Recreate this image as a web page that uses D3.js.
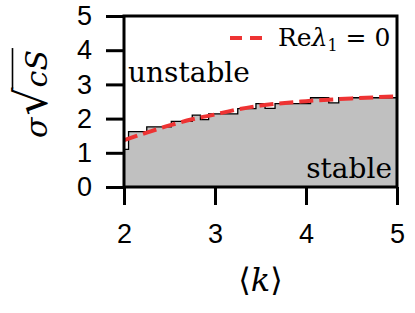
<!DOCTYPE html>
<html>
<head>
<meta charset="utf-8">
<script src="https://cdn.jsdelivr.net/npm/d3@7"></script>
<style>
  body { margin: 0; background: #fff; }
  .tick text { font-family: "Liberation Sans", Arial, sans-serif; font-size: 27px; fill: #000; }
  .tick line { stroke: #000; stroke-width: 3; }
  .serif { font-family: "DejaVu Serif", serif; fill: #000; }
</style>
</head>
<body>
<div id="vis"></div>
<script>
// staircase (numerical boundary) : start of each step and its value
var stepK   = [2.00, 2.05, 2.25, 2.52, 2.75, 2.84, 2.93, 3.25, 3.45, 3.55, 3.66, 4.05, 4.25, 4.36, 5.00];
var stepVal = [1.10, 1.62, 1.76, 1.92, 2.10, 1.97, 2.14, 2.29, 2.44, 2.30, 2.44, 2.61, 2.46, 2.61, 2.61];
// analytic curve Re lambda_1 = 0
var curveK   = [2.00, 2.25, 2.50, 2.75, 3.00, 3.25, 3.50, 4.00, 4.50, 5.00];
var curveVal = [1.37, 1.59, 1.80, 1.98, 2.12, 2.27, 2.38, 2.51, 2.59, 2.65];
var xTicks = [2, 3, 4, 5];
var yTicks = [0, 1, 2, 3, 4, 5];

var width = 415, height = 313;
var margin = {top: 16, right: 18, bottom: 126, left: 124};

var svg = d3.select("#vis").append("svg")
    .attr("width", width)
    .attr("height", height);

var x = d3.scaleLinear().domain([2, 5]).range([margin.left, width - margin.right]);
var y = d3.scaleLinear().domain([0, 5]).range([height - margin.bottom, margin.top]);

var steps = stepK.map((k, i) => ({k: k, v: stepVal[i]}));
var curve = curveK.map((k, i) => ({k: k, v: curveVal[i]}));

// stable region
svg.append("path")
    .datum(steps)
    .attr("fill", "#c0c0c0")
    .attr("d", d3.area().curve(d3.curveStepAfter)
        .x(d => x(d.k)).y0(y(0)).y1(d => y(d.v)));

svg.append("path")
    .datum(steps)
    .attr("fill", "none")
    .attr("stroke", "#000")
    .attr("stroke-width", 1.3)
    .attr("d", d3.line().curve(d3.curveStepAfter).x(d => x(d.k)).y(d => y(d.v)));

var red = "#ee3333";
svg.append("path")
    .datum(curve)
    .attr("fill", "none")
    .attr("stroke", red)
    .attr("stroke-width", 4)
    .attr("stroke-dasharray", "14,6")
    .attr("d", d3.line().curve(d3.curveMonotoneX).x(d => x(d.k)).y(d => y(d.v)));

// axes
var gx = svg.append("g")
    .attr("transform", "translate(0," + y(0) + ")")
    .call(d3.axisBottom(x).tickValues(xTicks).tickSize(18).tickPadding(19).tickFormat(d3.format("d")));
gx.select(".domain").remove();

var gy = svg.append("g")
    .attr("transform", "translate(" + x(2) + ",0)")
    .call(d3.axisLeft(y).tickValues(yTicks).tickSize(18).tickPadding(14).tickFormat(d3.format("d")));
gy.select(".domain").remove();

// frame
svg.append("rect")
    .attr("x", x(2)).attr("y", y(5))
    .attr("width", x(5) - x(2)).attr("height", y(0) - y(5))
    .attr("fill", "none").attr("stroke", "#000").attr("stroke-width", 3);

// region labels
svg.append("text").attr("class", "serif")
    .attr("x", x(2) + 4).attr("y", 82)
    .style("font-size", "28px")
    .text("unstable");
svg.append("text").attr("class", "serif")
    .attr("x", x(5) - 5).attr("y", 178)
    .attr("text-anchor", "end")
    .style("font-size", "28px")
    .text("stable");

// legend
svg.append("line")
    .attr("x1", 230).attr("x2", 263).attr("y1", 38).attr("y2", 38)
    .attr("stroke", red).attr("stroke-width", 4).attr("stroke-dasharray", "12,8");
var leg = svg.append("text").attr("class", "serif")
    .attr("x", 278).attr("y", 46)
    .style("font-size", "25px");
leg.append("tspan").text("Re");
leg.append("tspan").style("font-style", "italic").text("λ");
leg.append("tspan").attr("dy", 5).style("font-size", "16px").text("1");
leg.append("tspan").attr("dy", -5).text(" = 0");

// axis titles
svg.append("text").attr("class", "serif")
    .attr("x", x(3.5)).attr("y", 291)
    .attr("text-anchor", "middle")
    .style("font-size", "32px")
    .html('⟨<tspan font-style="italic">k</tspan>⟩');

var yg = svg.append("g").attr("transform", "translate(47,94) rotate(-90)");
var ylab = yg.append("text").attr("class", "serif")
    .attr("text-anchor", "middle")
    .style("font-size", "30px");
ylab.append("tspan").style("font-style", "italic").text("σ");
ylab.append("tspan").style("font-size", "44px").attr("dx", 2).text("√");
var cs = ylab.append("tspan").style("font-style", "italic").text("cS");
// vinculum of the radical over cS
var tn = ylab.node();
var n = tn.getNumberOfChars();
var x0 = tn.getStartPositionOfChar(n - 2).x - 1;
var x1 = tn.getEndPositionOfChar(n - 1).x + 2;
yg.append("line")
    .attr("x1", x0).attr("x2", x1).attr("y1", -34.5).attr("y2", -34.5)
    .attr("stroke", "#000").attr("stroke-width", 1.6);
</script>
</body>
</html>
